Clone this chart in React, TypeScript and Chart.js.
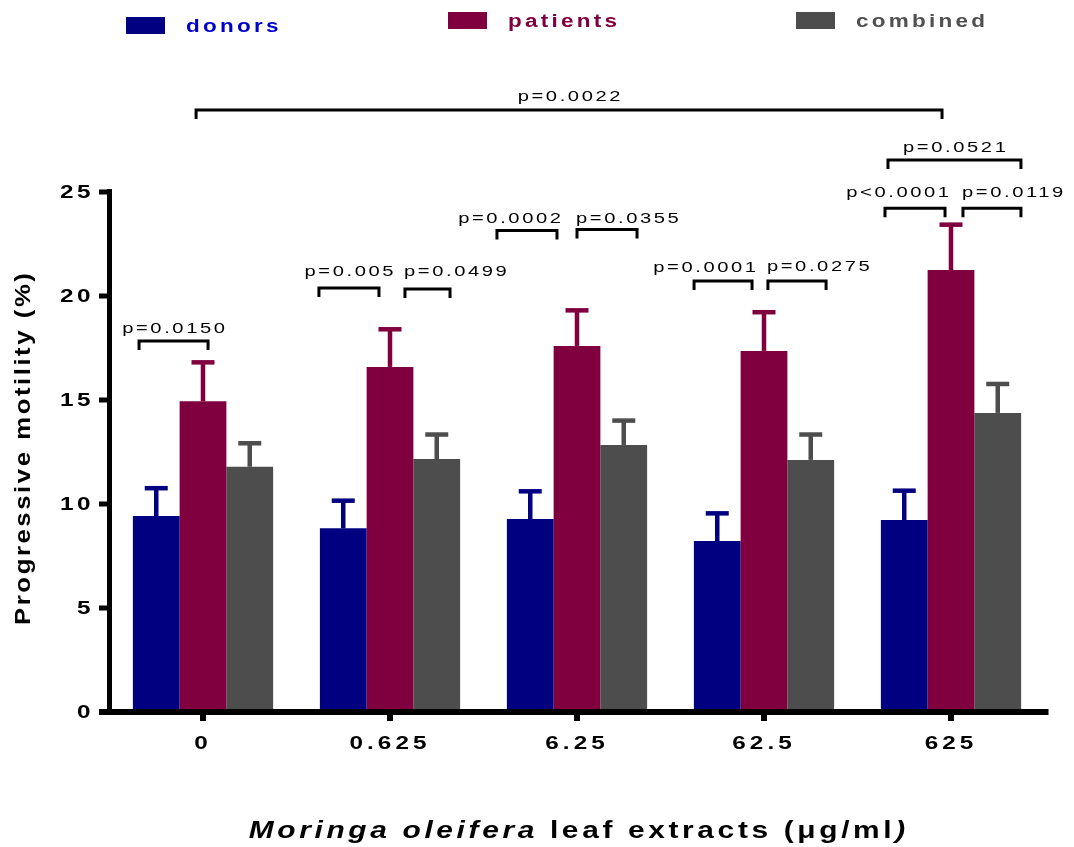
import React, { useEffect, useRef } from "react";
import { Chart, registerables } from "chart.js";

Chart.register(...registerables);

const categories = ["0", "0.625", "6.25", "62.5", "625"];
const seriesNames = ["donors", "patients", "combined"];
const donors = [9.42, 8.83, 9.28, 8.22, 9.23];
const donorsErr = [1.34, 1.33, 1.33, 1.33, 1.41];
const patients = [14.94, 16.59, 17.6, 17.36, 21.25];
const patientsErr = [1.87, 1.81, 1.71, 1.86, 2.18];
const combined = [11.79, 12.16, 12.84, 12.12, 14.38];
const combinedErr = [1.13, 1.18, 1.17, 1.22, 1.39];
const yTicks = [0, 5, 10, 15, 20, 25];

const bracketLabels = ["p=0.0150", "p=0.005", "p=0.0499", "p=0.0002", "p=0.0355", "p=0.0001", "p=0.0275", "p<0.0001", "p=0.0119", "p=0.0521", "p=0.0022"];
const bracketFrom = [-0.342, 0.62, 1.08, 1.572, 2.0, 2.626, 3.021, 3.647, 4.064, 3.663, -0.037];
const bracketTo = [0.027, 0.941, 1.321, 1.893, 2.321, 2.936, 3.332, 3.968, 4.374, 4.374, 3.952];
const bracketY = [17.84, 20.38, 20.34, 23.15, 23.2, 20.72, 20.72, 24.22, 24.22, 26.54, 28.94];
const bracketLabelY = [18.41, 21.15, 21.15, 23.7, 23.7, 21.35, 21.39, 24.98, 24.98, 27.12, 29.57];
const bracketAlign = ["center", "center", "left", "right", "left", "right", "left", "right", "left", "center", "center"];

const barColors = ["#000080", "#80003F", "#4D4D4D"];
const legendTextColors = ["#0000CC", "#80003F", "#505050"];

const FONT = '"Liberation Sans", Arial, sans-serif';

function textWidth(ctx: CanvasRenderingContext2D, text: string, font: string, spacing: number, sx: number) {
  ctx.save();
  ctx.font = font;
  (ctx as any).letterSpacing = spacing + "px";
  const w = (ctx.measureText(text).width - spacing) * sx;
  ctx.restore();
  return w;
}

function drawText(
  ctx: CanvasRenderingContext2D,
  text: string,
  x: number,
  y: number,
  font: string,
  color: string,
  spacing: number,
  sx: number,
  align: string
) {
  const w = textWidth(ctx, text, font, spacing, sx);
  const left = align === "center" ? x - w / 2 : align === "right" ? x - w : x;
  ctx.save();
  ctx.font = font;
  (ctx as any).letterSpacing = spacing + "px";
  ctx.translate(left, y);
  ctx.scale(sx, 1);
  ctx.textAlign = "left";
  ctx.textBaseline = "middle";
  ctx.fillStyle = color;
  ctx.fillText(text, 0, 0);
  ctx.restore();
  return w;
}

const errors = [donorsErr, patientsErr, combinedErr];

const decorPlugin = {
  id: "decor",
  afterDatasetsDraw(chart: any) {
    const ctx: CanvasRenderingContext2D = chart.ctx;
    const xs = chart.scales.x;
    const ys = chart.scales.y;
    const area = chart.chartArea;

    // error bars
    chart.data.datasets.forEach((ds: any, i: number) => {
      const meta = chart.getDatasetMeta(i);
      meta.data.forEach((el: any, j: number) => {
        const v = ds.data[j];
        const yEnd = ys.getPixelForValue(v + errors[i][j]);
        ctx.save();
        ctx.fillStyle = barColors[i];
        ctx.fillRect(el.x - 2.25, yEnd, 4.5, el.y - yEnd);
        ctx.fillRect(el.x - 11.5, yEnd - 2.25, 23, 4.5);
        ctx.restore();
      });
    });

    // axes
    ctx.save();
    ctx.fillStyle = "#000";
    const y0 = ys.getPixelForValue(0);
    const yTop = ys.getPixelForValue(25);
    ctx.fillRect(area.left - 2.5, yTop - 3, 5, y0 - yTop + 5.5);
    ctx.fillRect(area.left - 10.5, y0 - 3, area.right + 4 - (area.left - 10.5), 6);
    yTicks.forEach((t) => {
      const py = ys.getPixelForValue(t);
      ctx.fillRect(area.left - 10.5, py - 2.5, 9, 5);
      drawText(ctx, String(t), area.left - 19, py + 1.5, "bold 18px " + FONT, "#000", 2.6, 1.35, "right");
    });
    categories.forEach((c, i) => {
      const px = xs.getPixelForValue(i);
      ctx.fillRect(px - 3, y0, 6, 9);
      drawText(ctx, c, px - 2, y0 + 32, "bold 18px " + FONT, "#000", 3.0, 1.35, "center");
    });
    ctx.restore();

    // brackets
    ctx.save();
    ctx.strokeStyle = "#000";
    ctx.lineWidth = 3;
    bracketLabels.forEach((lab, k) => {
      const x1 = xs.getPixelForValue(bracketFrom[k]);
      const x2 = xs.getPixelForValue(bracketTo[k]);
      const by = ys.getPixelForValue(bracketY[k]);
      ctx.beginPath();
      ctx.moveTo(x1, by + 9);
      ctx.lineTo(x1, by);
      ctx.lineTo(x2, by);
      ctx.lineTo(x2, by + 9);
      ctx.stroke();
      const ly = ys.getPixelForValue(bracketLabelY[k]);
      const al = bracketAlign[k];
      const tx = al === "center" ? (x1 + x2) / 2 : al === "left" ? x1 - 1 : x2 + 4;
      drawText(ctx, lab, tx, ly, "15.5px " + FONT, "#000", 2.0, 1.3, al);
    });
    ctx.restore();

    // legend
    const legendBoxes = [
      [126, 17],
      [448, 12],
      [796, 12],
    ];
    seriesNames.forEach((name, i) => {
      const [lx, ly] = legendBoxes[i];
      ctx.save();
      ctx.fillStyle = barColors[i];
      ctx.fillRect(lx, ly, 39, 17);
      ctx.restore();
      drawText(ctx, name, lx + 60, ly + 10, "bold 18px " + FONT, legendTextColors[i], 2.6, 1.25, "left");
    });

    // y title
    ctx.save();
    ctx.translate(24, 449);
    ctx.rotate(-Math.PI / 2);
    drawText(ctx, "Progressive motility (%)", 0, 0, "bold 21.5px " + FONT, "#000", 2.1, 1.2, "center");
    ctx.restore();

    // x title
    const segs = [
      { t: "Moringa oleifera", f: "italic bold 23px " + FONT },
      { t: " leaf extracts (\u03bcg/ml", f: "bold 23px " + FONT },
      { t: ")", f: "italic bold 23px " + FONT },
    ];
    const sp = 2.8;
    const sxx = 1.3;
    const widths = segs.map((s) => textWidth(ctx, s.t, s.f, sp, sxx) + sp * sxx);
    const total = widths.reduce((a, b) => a + b, 0) - sp * sxx;
    let cx = 577 - total / 2;
    segs.forEach((s, i) => {
      drawText(ctx, s.t, cx, 832, s.f, "#000", sp, sxx, "left");
      cx += widths[i];
    });
  },
};

export default function App() {
  const ref = useRef<HTMLCanvasElement | null>(null);
  useEffect(() => {
    if (!ref.current) return;
    const chart = new Chart(ref.current, {
      type: "bar",
      data: {
        labels: categories,
        datasets: [
          { label: seriesNames[0], data: donors, backgroundColor: barColors[0] },
          { label: seriesNames[1], data: patients, backgroundColor: barColors[1] },
          { label: seriesNames[2], data: combined, backgroundColor: barColors[2] },
        ],
      },
      options: {
        responsive: false,
        animation: false,
        devicePixelRatio: 1,
        layout: { padding: { left: 109.5, right: 29.5, top: 192, bottom: 135 } },
        datasets: { bar: { categoryPercentage: 0.75, barPercentage: 1.0 } },
        plugins: { legend: { display: false }, tooltip: { enabled: false } },
        scales: {
          x: { display: false, offset: true },
          y: { display: false, min: 0, max: 25 },
        },
      },
      plugins: [decorPlugin],
    });
    return () => chart.destroy();
  }, []);
  return (
    <div style={{ position: "absolute", left: 0, top: 0, width: 1074, height: 847, background: "#fff" }}>
      <canvas ref={ref} width={1074} height={847} style={{ display: "block" }} />
    </div>
  );
}
